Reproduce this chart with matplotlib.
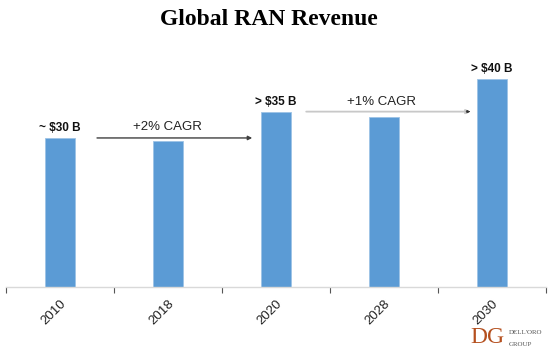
import numpy as np
import matplotlib
matplotlib.use('Agg')
import matplotlib.pyplot as plt

# data
years = ['2010', '2018', '2020', '2028', '2030']
revenue = [30.0, 29.4, 35.2, 34.2, 41.9]   # $B, approximate
bar_labels = {0: '~ $30 B', 2: '> $35 B', 4: '> $40 B'}
cagr_text = ['+2% CAGR', '+1% CAGR']

bar_color = '#5b9bd5'

fig = plt.figure(figsize=(5.54, 3.56), dpi=100)
ax = fig.add_axes([0.0108, 0.1938, 0.9747, 0.6657])

x = np.arange(len(years))
ax.bar(x, revenue, width=0.28, color=bar_color, edgecolor='#9dc3e6', linewidth=0.6)

for i, lab in bar_labels.items():
    ax.text(x[i], revenue[i] + 2.0, lab, ha='center', va='center',
            fontsize=8.5, fontweight='bold', family='Liberation Sans', color='#111111')

# CAGR arrows
ax.annotate('', xy=(1.78, revenue[0]), xytext=(0.343, revenue[0]),
            arrowprops=dict(arrowstyle='-|>', color='#404040', lw=1.0,
                            mutation_scale=6, shrinkA=0, shrinkB=0))
ax.text(0.995, 32.2, cagr_text[0], ha='center', va='center', fontsize=9.5,
        family='Liberation Sans', color='#222222')

ax.annotate('', xy=(3.80, 35.3), xytext=(2.28, 35.3),
            arrowprops=dict(arrowstyle='-|>', color='#c8c8c8', lw=1.3,
                            mutation_scale=6, shrinkA=0, shrinkB=0))
ax.annotate('', xy=(3.80, 35.3), xytext=(3.76, 35.3),
            arrowprops=dict(arrowstyle='-|>', color='#333333', lw=0.5,
                            mutation_scale=5, shrinkA=0, shrinkB=0))
ax.text(2.98, 37.2, cagr_text[1], ha='center', va='center', fontsize=9.5,
        family='Liberation Sans', color='#222222')

ax.set_xlim(-0.5, 4.5)
ax.set_ylim(0, 47.7)
ax.set_yticks([])
for s in ['top', 'right', 'left']:
    ax.spines[s].set_visible(False)
ax.spines['bottom'].set_color('#d9d9d9')
ax.spines['bottom'].set_linewidth(1.0)

ax.set_xticks(x)
ax.set_xticklabels(years, rotation=45, ha='right', rotation_mode='anchor',
                   fontsize=9.5, family='Liberation Sans', color='#222222')
ax.tick_params(axis='x', which='major', length=0, pad=8)
ax.set_xticks(np.arange(-0.5, 5.0, 1.0), minor=True)
ax.tick_params(axis='x', which='minor', length=4, width=0.8, color='#555555')

fig.text(0.486, 0.944, 'Global RAN Revenue', ha='center', va='center',
         fontsize=17, fontweight='bold', family='Liberation Serif')

# Dell'Oro logo
fig.text(0.879, 0.051, 'DG', ha='center', va='center', fontsize=17,
         family='Liberation Serif', color='#b5501f')
fig.text(0.919, 0.065, "DELL'ORO", ha='left', va='center', fontsize=5,
         family='Liberation Serif', color='#555555')
fig.text(0.919, 0.031, 'GROUP', ha='left', va='center', fontsize=5,
         family='Liberation Serif', color='#555555')

plt.savefig('out.png', dpi=100)
